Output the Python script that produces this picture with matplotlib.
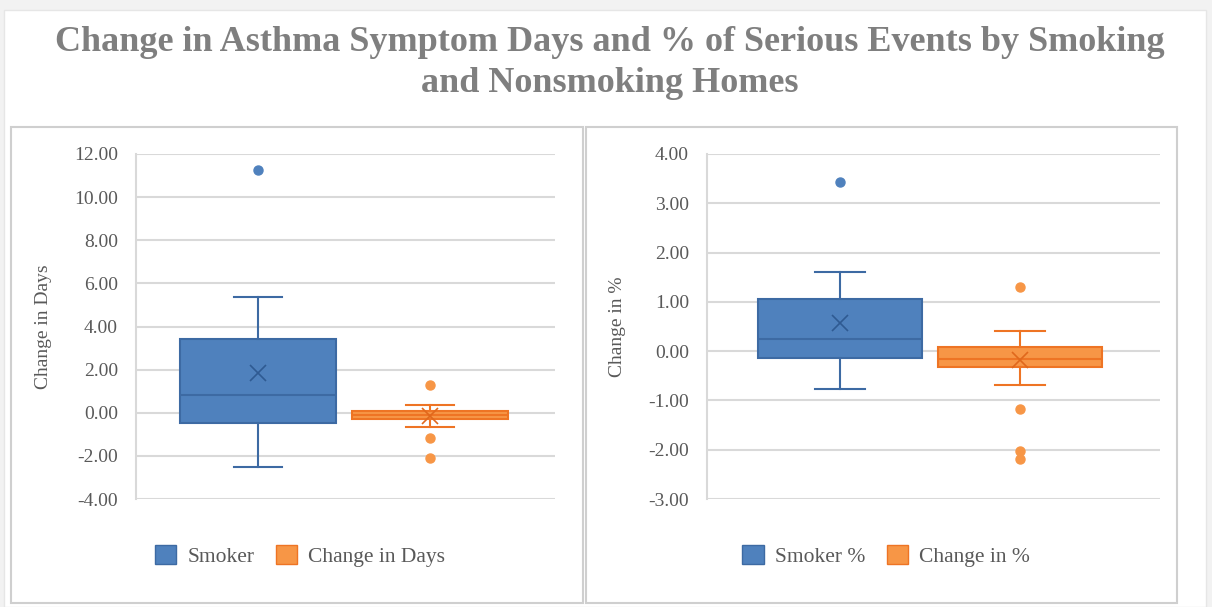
import matplotlib
matplotlib.use('Agg')
from matplotlib import pyplot as plt
from matplotlib.patches import Rectangle, Patch

# box stats for each series: whisker low, q1, median, q3, whisker high, mean, outliers
days_labels = ['Smoker', 'Change in Days']
days_smoker = [-2.50, -0.46, 0.83, 3.44, 5.37, 1.85]
days_smoker_out = [11.26]
days_change = [-0.64, -0.30, -0.12, 0.10, 0.38, -0.15]
days_change_out = [1.30, -1.19, -2.12]

pct_labels = ['Smoker %', 'Change in %']
pct_smoker = [-0.77, -0.13, 0.24, 1.05, 1.61, 0.57]
pct_smoker_out = [3.44]
pct_change = [-0.69, -0.33, -0.16, 0.08, 0.41, -0.18]
pct_change_out = [1.30, -1.17, -2.02, -2.19]

days_ticks = [-4, -2, 0, 2, 4, 6, 8, 10, 12]
pct_ticks = [-3, -2, -1, 0, 1, 2, 3, 4]

W, H = 1212, 607
BLUE, BLUE_EDGE, BLUE_MEAN = '#4f81bd', '#3d6aa3', '#2f5a92'
ORANGE, ORANGE_EDGE, ORANGE_MEAN = '#f79646', '#ee7424', '#e0681c'
GRID = '#d9d9d9'
TEXT = '#595959'
SERIF = ['Liberation Serif', 'DejaVu Serif']


def px_rect(x0, y0, x1, y1):
    # pixel box (top-left origin) -> figure fraction rect
    return [x0 / W, 1 - y1 / H, (x1 - x0) / W, (y1 - y0) / H]


def stats_of(vals, fliers):
    lo, q1, med, q3, hi, mean = vals
    return dict(whislo=lo, q1=q1, med=med, q3=q3, whishi=hi, mean=mean, fliers=fliers)


def draw_box(ax, vals, fliers, pos, face, edge, meanc):
    ax.bxp([stats_of(vals, fliers)], positions=[pos], widths=0.91, capwidths=0.28,
           patch_artist=True, showmeans=True, manage_ticks=False,
           boxprops=dict(facecolor=face, edgecolor=edge, linewidth=1.5),
           medianprops=dict(color=edge, linewidth=1.5),
           whiskerprops=dict(color=edge, linewidth=1.5),
           capprops=dict(color=edge, linewidth=1.5),
           meanprops=dict(marker='x', markeredgecolor=meanc, markersize=12, markeredgewidth=1.2),
           flierprops=dict(marker='o', markerfacecolor=face, markeredgecolor=face, markersize=6.5))


def panel(rect, ylim, ticks, first, second, ylabel, xlim):
    ax = fig.add_axes(rect)
    ax.patch.set_alpha(0)
    draw_box(ax, first[0], first[1], 1, BLUE, BLUE_EDGE, BLUE_MEAN)
    draw_box(ax, second[0], second[1], 2, ORANGE, ORANGE_EDGE, ORANGE_MEAN)
    ax.set_xlim(*xlim)
    ax.set_ylim(*ylim)
    ax.set_yticks(ticks)
    ax.set_yticklabels(['%.2f' % t for t in ticks], fontsize=14, color=TEXT, family=SERIF)
    ax.set_xticks([])
    ax.tick_params(axis='y', length=0, pad=13)
    ax.yaxis.grid(True, color=GRID, linewidth=1.5)
    ax.set_axisbelow(True)
    for s in ['top', 'right', 'bottom']:
        ax.spines[s].set_visible(False)
    ax.spines['left'].set_color(GRID)
    ax.spines['left'].set_linewidth(1.5)
    ax.set_ylabel(ylabel, fontsize=14, color=TEXT, family=SERIF, labelpad=16)
    return ax


fig = plt.figure(figsize=(W / 100, H / 100), dpi=100, facecolor='#f2f2f2')

# white chart area and the two panel frames, kept behind the axes
fig.patches.append(Rectangle((4 / W, 0), 1202 / W, 1 - 10 / H, transform=fig.transFigure,
                             facecolor='white', edgecolor='#e6e6e6', linewidth=1, zorder=-10))
for x0, x1 in [(11, 583), (586, 1177)]:
    fig.patches.append(Rectangle((x0 / W, 1 - 603 / H), (x1 - x0) / W, (603 - 127) / H,
                                 transform=fig.transFigure, facecolor='white',
                                 edgecolor='#cfcfcf', linewidth=1.5, zorder=-5))

fig.text(610 / W, 1 - 63 / H,
         'Change in Asthma Symptom Days and % of Serious Events by Smoking\nand Nonsmoking Homes',
         ha='center', va='center', fontsize=26, fontweight='bold', color='#7f7f7f',
         family=SERIF, linespacing=1.3)

ax1 = panel(px_rect(136, 154, 555, 499), (-4, 12), days_ticks,
            (days_smoker, days_smoker_out), (days_change, days_change_out),
            'Change in Days', (0.29, 2.73))
ax2 = panel(px_rect(707, 154, 1160, 499), (-3, 4), pct_ticks,
            (pct_smoker, pct_smoker_out), (pct_change, pct_change_out),
            'Change in %', (0.26, 2.78))

for labels, cx in [(days_labels, 300), (pct_labels, 886)]:
    handles = [Patch(facecolor=BLUE, edgecolor=BLUE_EDGE, linewidth=1),
               Patch(facecolor=ORANGE, edgecolor=ORANGE_EDGE, linewidth=1)]
    fig.legend(handles, labels, loc='center', bbox_to_anchor=(cx / W, 1 - 556 / H),
               ncol=2, frameon=False, handlelength=1.0, handleheight=1.0,
               handletextpad=0.5, columnspacing=1.0,
               prop=dict(family=SERIF, size=15.5), labelcolor=TEXT)

fig.savefig('out.png', dpi=100, facecolor=fig.get_facecolor())
